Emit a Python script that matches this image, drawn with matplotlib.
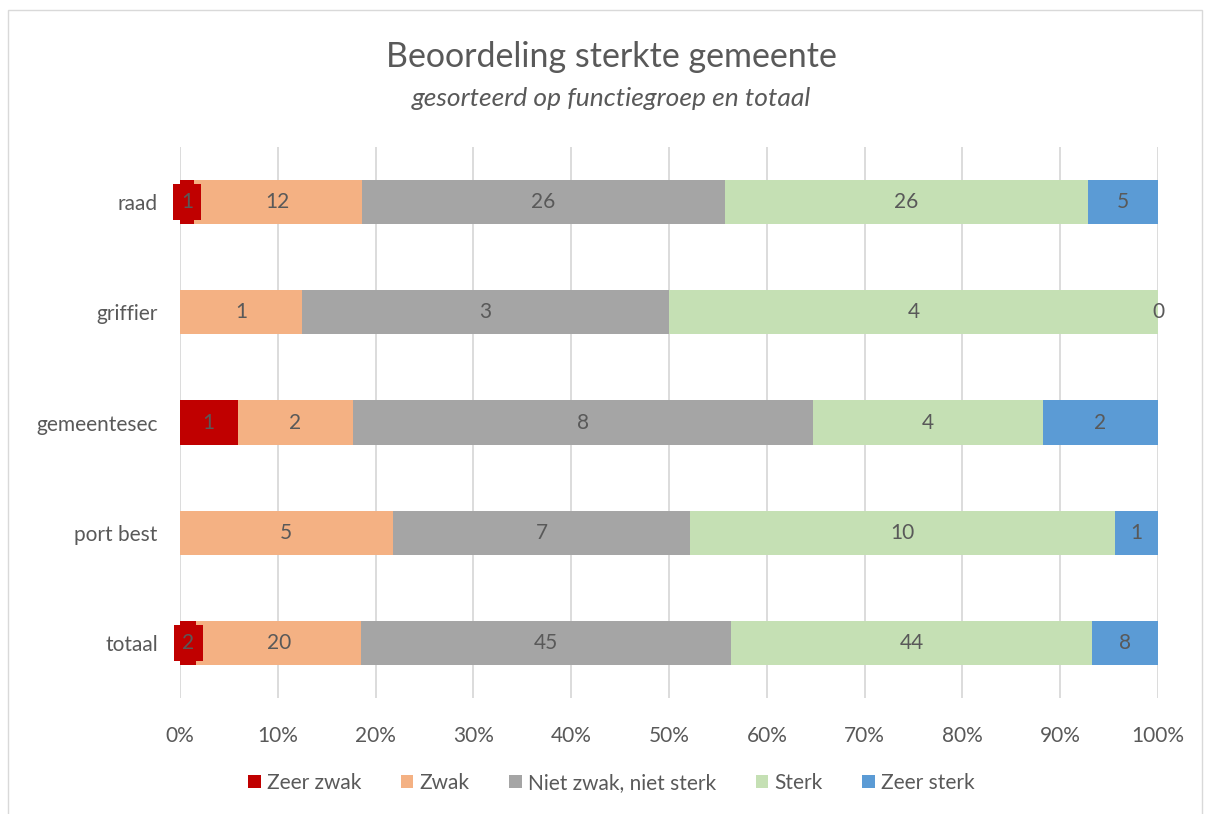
import numpy as np
import matplotlib.pyplot as plt
from matplotlib.patches import Rectangle

plt.rcParams['font.family'] = ['Lato', 'DejaVu Sans']

groups = ['raad', 'griffier', 'gemeentesec', 'port best', 'totaal']
series = ['Zeer zwak', 'Zwak', 'Niet zwak, niet sterk', 'Sterk', 'Zeer sterk']
colors = ['#C00000', '#F4B183', '#A5A5A5', '#C5E0B4', '#5B9BD5']

# nan = empty cell (no label in the chart)
zeer_zwak = [1, np.nan, 1, np.nan, 2]
zwak = [12, 1, 2, 5, 20]
neutraal = [26, 3, 8, 7, 45]
sterk = [26, 4, 4, 10, 44]
zeer_sterk = [5, 0, 2, 1, 8]

TXT = '#595959'


def main():
    data = np.array([zeer_zwak, zwak, neutraal, sterk, zeer_sterk], dtype=float)
    vals = np.nan_to_num(data)
    totals = vals.sum(axis=0)
    pct = vals / totals * 100

    fig = plt.figure(figsize=(12.06, 8.14), dpi=100)
    ax = fig.add_axes([0.1493, 0.1425, 0.8109, 0.6769])

    ypos = np.arange(len(groups))
    left = np.zeros(len(groups))
    for i, name in enumerate(series):
        ax.barh(ypos, pct[i], left=left, height=0.4, color=colors[i],
                label=name, zorder=2)
        for j in range(len(groups)):
            if np.isnan(data[i, j]):
                continue
            xc = left[j] + pct[i, j] / 2
            box = None
            if i == 0:
                box = dict(boxstyle='square,pad=0.4', fc=colors[0], ec='none')
            ax.text(xc, ypos[j], '%d' % data[i, j], ha='center', va='center',
                    fontsize=15, color=TXT, bbox=box, zorder=3)
        left += pct[i]

    ax.set_xlim(0, 100)
    ax.set_ylim(len(groups) - 0.5, -0.5)
    ax.set_yticks(ypos)
    ax.set_yticklabels(groups)
    ax.set_xticks(np.arange(0, 101, 10))
    ax.set_xticklabels(['%d%%' % v for v in range(0, 101, 10)])
    ax.tick_params(length=0, labelsize=15, colors=TXT)
    ax.tick_params(axis='x', pad=20)
    ax.tick_params(axis='y', pad=16)
    ax.grid(axis='x', color='#D9D9D9', linewidth=1.3, zorder=0)
    for sp in ax.spines.values():
        sp.set_visible(False)

    fig.text(0.507, 0.930, 'Beoordeling sterkte gemeente', ha='center',
             va='center', fontsize=24.5, color=TXT)
    fig.text(0.507, 0.879, 'gesorteerd op functiegroep en totaal', ha='center',
             va='center', fontsize=19, color=TXT, style='italic')

    fig.legend(loc='center', bbox_to_anchor=(0.507, 0.038), ncol=5,
               frameon=False, fontsize=15, labelcolor=TXT, handlelength=0.6,
               handleheight=0.6, handletextpad=0.3, columnspacing=1.9)

    fig.patches.append(Rectangle((0.007, -0.01), 0.99, 0.998,
                                 transform=fig.transFigure, fill=False,
                                 ec='#D9D9D9', lw=1))
    plt.savefig('out.png')


if __name__ == '__main__':
    main()
